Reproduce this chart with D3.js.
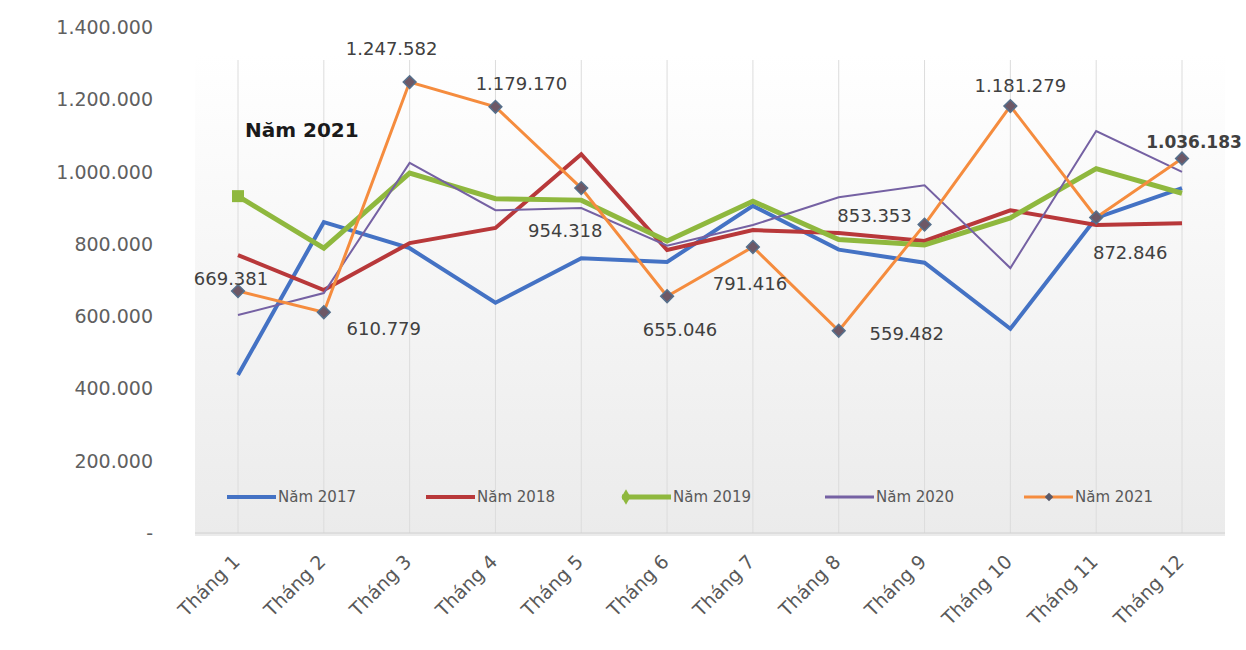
<!DOCTYPE html>
<html>
<head>
<meta charset="utf-8">
<script src="https://cdn.jsdelivr.net/npm/d3@7"></script>
<style>
  body { margin: 0; background: #fff; }
  svg text { font-family: "DejaVu Sans", sans-serif; }
</style>
</head>
<body>
<div id="chart"></div>
<script>
// data
const months = ["Tháng 1", "Tháng 2", "Tháng 3", "Tháng 4", "Tháng 5", "Tháng 6",
                "Tháng 7", "Tháng 8", "Tháng 9", "Tháng 10", "Tháng 11", "Tháng 12"];
const y2017 = [437000, 860000, 788000, 637000, 760000, 750000, 905000, 784000, 748000, 565000, 872000, 954000];
const y2018 = [769000, 672000, 802000, 844000, 1048000, 783000, 838000, 830000, 808000, 893000, 852000, 857000];
const y2019 = [932000, 788000, 996000, 925000, 921000, 808000, 918000, 812000, 797000, 872000, 1008000, 940000];
const y2020 = [603000, 664000, 1024000, 893000, 899000, 795000, 852000, 929000, 962000, 733000, 1112000, 999000];
const y2021 = [669381, 610779, 1247582, 1179170, 954318, 655046, 791416, 559482, 853353, 1181279, 872846, 1036183];
const yTicks = [0, 200000, 400000, 600000, 800000, 1000000, 1200000, 1400000];
const seriesNames = ["Năm 2017", "Năm 2018", "Năm 2019", "Năm 2020", "Năm 2021"];

// label offsets for the 2021 values (dx, dy from the point)
const labelOff = [[-7, -6], [60, 23], [-18, -27], [26, -17], [-16, 49], [13, 40],
                  [-3, 43], [68, 9], [-50, -3], [10, -14], [34, 41], [12, -10]];

const W = 1246, H = 650;
const svg = d3.select("#chart").append("svg")
    .attr("width", W)
    .attr("height", H);

const x = d3.scalePoint().domain(months).range([238, 1182]);
const y = d3.scaleLinear().domain([0, 1400000]).range([533, 27]);

const vn = d3.formatLocale({decimal: ",", thousands: ".", grouping: [3], currency: ["", ""]});
const fmt = vn.format(",d");

// plot area background (gradient)
const defs = svg.append("defs");
const grad = defs.append("linearGradient")
    .attr("id", "bg").attr("x1", 0).attr("y1", 0).attr("x2", 0).attr("y2", 1);
grad.append("stop").attr("offset", "0%").attr("stop-color", "#ffffff");
grad.append("stop").attr("offset", "100%").attr("stop-color", "#ebebeb");

svg.append("rect")
    .attr("x", 195).attr("y", 55)
    .attr("width", 1030).attr("height", y(0) - 55 + 3)
    .attr("fill", "url(#bg)");

// vertical grid lines
svg.append("g")
    .selectAll("line")
    .data(months)
    .enter().append("line")
    .attr("x1", d => x(d)).attr("x2", d => x(d))
    .attr("y1", 60).attr("y2", y(0))
    .attr("stroke", "#dcdcdc")
    .attr("stroke-width", 1);

// bottom axis line
svg.append("line")
    .attr("x1", 195).attr("x2", 1225)
    .attr("y1", y(0)).attr("y2", y(0))
    .attr("stroke", "#d0d0d0");

// Y axis labels
svg.append("g")
    .selectAll("text")
    .data(yTicks)
    .enter().append("text")
    .attr("x", 153)
    .attr("y", d => y(d) + 7)
    .attr("text-anchor", "end")
    .attr("font-size", 19)
    .attr("fill", "#606060")
    .text(d => d === 0 ? "-" : fmt(d));

// X axis labels
svg.append("g")
    .selectAll("text")
    .data(months)
    .enter().append("text")
    .attr("text-anchor", "end")
    .attr("transform", d => `translate(${x(d) + 3},${y(0) + 30}) rotate(-45)`)
    .attr("font-family", "Liberation Sans, Arial, sans-serif")
    .attr("font-size", 19)
    .attr("fill", "#595959")
    .text(d => d);

// Lines
const series = [
    {name: seriesNames[0], values: y2017, color: "#4472c4", width: 4},
    {name: seriesNames[1], values: y2018, color: "#b8383a", width: 4},
    {name: seriesNames[2], values: y2019, color: "#8fb83e", width: 5},
    {name: seriesNames[3], values: y2020, color: "#7561a3", width: 2},
    {name: seriesNames[4], values: y2021, color: "#f58c3e", width: 3}
];

const line = d3.line()
    .x((d, i) => x(months[i]))
    .y(d => y(d));

svg.append("g")
    .selectAll("path")
    .data(series)
    .enter().append("path")
    .attr("d", d => line(d.values))
    .attr("fill", "none")
    .attr("stroke", d => d.color)
    .attr("stroke-width", d => d.width)
    .attr("stroke-linejoin", "miter");

// green marker on first point
svg.append("rect")
    .attr("x", x(months[0]) - 6).attr("y", y(y2019[0]) - 6)
    .attr("width", 12).attr("height", 12)
    .attr("fill", "#8fb83e");

// 2021 markers (rotated squares)
svg.append("g")
    .selectAll("rect")
    .data(y2021)
    .enter().append("rect")
    .attr("x", -4.5).attr("y", -4.5)
    .attr("width", 9).attr("height", 9)
    .attr("transform", (d, i) => `translate(${x(months[i])},${y(d)}) rotate(45)`)
    .attr("fill", "#6d5866")
    .attr("stroke", "#56708c")
    .attr("stroke-width", 1.5);

// 2021 labels
svg.append("g")
    .selectAll("text")
    .data(y2021)
    .enter().append("text")
    .attr("x", (d, i) => x(months[i]) + labelOff[i][0])
    .attr("y", (d, i) => y(d) + labelOff[i][1])
    .attr("text-anchor", "middle")
    .attr("font-size", (d, i) => i === 11 ? 17 : 18)
    .attr("font-weight", (d, i) => i === 11 ? "bold" : "normal")
    .attr("fill", "#404040")
    .text(d => fmt(d));

// Title
svg.append("text")
    .attr("x", 245).attr("y", 137)
    .attr("font-family", "Liberation Sans, Arial, sans-serif")
    .attr("font-weight", "bold")
    .attr("font-size", 20)
    .attr("fill", "#1a1a1a")
    .text("Năm 2021");

// Legend
const legendX = [227, 426, 622, 825, 1024];
const legend = svg.append("g")
    .selectAll("g")
    .data(series)
    .enter().append("g")
    .attr("transform", (d, i) => `translate(${legendX[i]},497)`);

legend.append("line")
    .attr("x1", 0).attr("x2", 49)
    .attr("y1", 0).attr("y2", 0)
    .attr("stroke", d => d.color)
    .attr("stroke-width", d => Math.max(d.width, 3));

legend.filter((d, i) => i === 2).append("path")
    .attr("d", d3.symbol().type(d3.symbolDiamond).size(70))
    .attr("transform", "translate(4,0)")
    .attr("fill", "#8fb83e");

legend.filter((d, i) => i === 4).append("rect")
    .attr("x", -3).attr("y", -3)
    .attr("width", 6).attr("height", 6)
    .attr("transform", "translate(25,0) rotate(45)")
    .attr("fill", "#5a5a6a");

legend.append("text")
    .attr("x", 51).attr("y", 5)
    .attr("font-family", "Liberation Sans Narrow, Liberation Sans, Arial, sans-serif")
    .attr("font-size", 15)
    .attr("fill", "#595959")
    .text(d => d.name);
</script>
</body>
</html>
